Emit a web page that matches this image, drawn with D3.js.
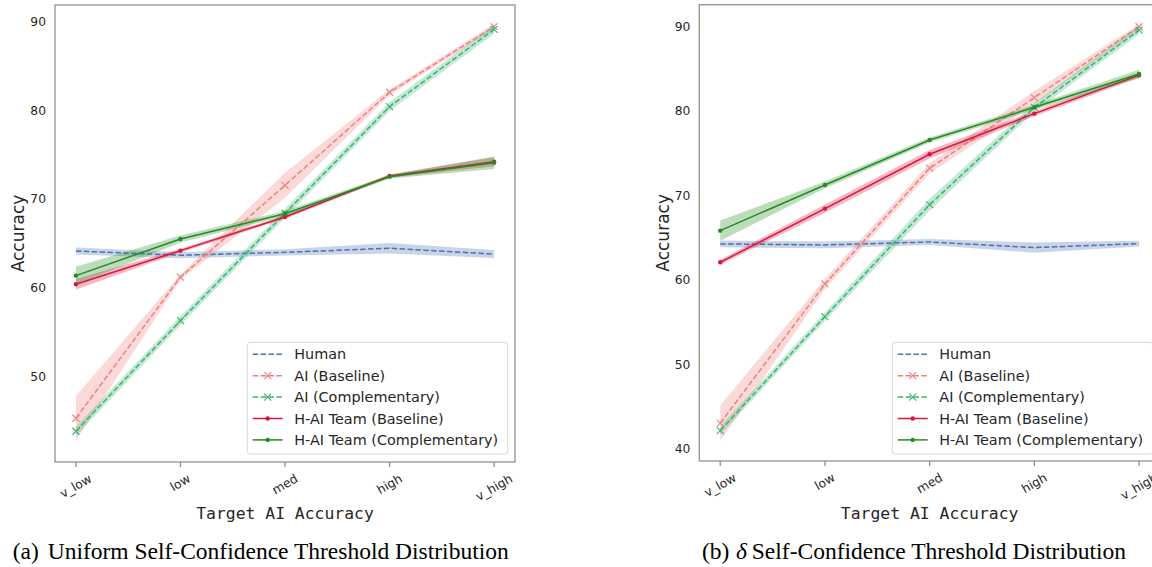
<!DOCTYPE html>
<html>
<head>
<meta charset="utf-8">
<script src="https://cdn.jsdelivr.net/npm/d3@7"></script>
<style>
  body { margin: 0; background: #fff; }
  svg { display: block; }
</style>
</head>
<body>
<svg id="chart" width="1152" height="567"></svg>
<script>
// categories on the x axis
const categories = ['v_low', 'low', 'med', 'high', 'v_high'];
const seriesNames = ['Human', 'AI (Baseline)', 'AI (Complementary)', 'H-AI Team (Baseline)', 'H-AI Team (Complementary)'];

// (a) uniform threshold: means and half-widths of the bands
const uniHuman = [64.15, 63.67, 64.0, 64.46, 63.8];
const uniHumanErr = [0.4, 0.35, 0.35, 0.6, 0.45];
const uniAIBase = [45.27, 61.19, 71.57, 82.07, 89.47];
const uniAIBaseErr = [2.5, 0.3, 1.4, 0.3, 0.3];
const uniAIComp = [43.8, 56.29, 68.41, 80.44, 89.17];
const uniAICompErr = [0.5, 0.5, 0.5, 0.5, 0.5];
const uniTeamBase = [60.39, 64.19, 67.99, 72.62, 74.23];
const uniTeamBaseErr = [0.6, 0.2, 0.2, 0.2, 0.5];
const uniTeamComp = [61.37, 65.51, 68.36, 72.54, 74.12];
const uniTeamCompErr = [1.0, 0.4, 0.3, 0.2, 0.7];

// (b) delta threshold
const delHuman = [64.24, 64.12, 64.47, 63.8, 64.27];
const delHumanErr = [0.4, 0.4, 0.35, 0.6, 0.35];
const delAIBase = [43.02, 59.5, 73.2, 81.55, 89.95];
const delAIBaseErr = [2.1, 0.6, 0.6, 0.8, 0.3];
const delAIComp = [42.14, 55.63, 68.89, 80.41, 89.56];
const delAICompErr = [0.5, 0.5, 0.7, 0.5, 0.5];
const delTeamBase = [62.07, 68.42, 74.85, 79.66, 84.2];
const delTeamBaseErr = [0.3, 0.5, 0.5, 0.3, 0.3];
const delTeamComp = [65.81, 71.22, 76.54, 80.41, 84.36];
const delTeamCompErr = [1.2, 0.4, 0.3, 0.3, 0.5];

const yTicks = [40, 50, 60, 70, 80, 90];

const styles = [
  { color: '#4c72b0', dash: '5.5,2.4', marker: 'none' },
  { color: '#f08080', dash: '5.5,2.4', marker: 'x' },
  { color: '#3cb371', dash: '5.5,2.4', marker: 'x' },
  { color: '#dc143c', dash: null, marker: 'dot' },
  { color: '#228b22', dash: null, marker: 'dot' }
];

const panels = [
  {
    box: { left: 55, right: 515, top: 5, bottom: 462 },
    yDomain: [40.33, 91.92],
    labelX: 18.3,
    series: [
      [uniHuman, uniHumanErr], [uniAIBase, uniAIBaseErr], [uniAIComp, uniAICompErr],
      [uniTeamBase, uniTeamBaseErr], [uniTeamComp, uniTeamCompErr]
    ]
  },
  {
    box: { left: 699.3, right: 1160, top: 4.7, bottom: 461 },
    yDomain: [38.54, 92.56],
    labelX: 663,
    series: [
      [delHuman, delHumanErr], [delAIBase, delAIBaseErr], [delAIComp, delAICompErr],
      [delTeamBase, delTeamBaseErr], [delTeamComp, delTeamCompErr]
    ]
  }
];

const svg = d3.select('#chart');
const textColor = '#262626';
const spineColor = '#8c8c8c';

panels.forEach((p, pi) => {
  const b = p.box;
  const x = d3.scalePoint().domain(categories).range([b.left, b.right]).padding(0.2);
  const y = d3.scaleLinear().domain(p.yDomain).range([b.bottom, b.top]);

  const g = svg.append('g');
  const clipId = 'clip' + pi;
  svg.append('clipPath').attr('id', clipId)
    .append('rect').attr('x', b.left).attr('y', b.top)
    .attr('width', b.right - b.left).attr('height', b.bottom - b.top);

  const plot = g.append('g').attr('clip-path', `url(#${clipId})`);

  p.series.forEach(([vals, errs], si) => {
    const st = styles[si];
    const rows = categories.map((c, i) => ({ c, v: vals[i], e: errs[i] }));

    plot.append('path')
      .datum(rows)
      .attr('fill', st.color)
      .attr('fill-opacity', 0.3)
      .attr('d', d3.area().x(d => x(d.c)).y0(d => y(d.v - d.e)).y1(d => y(d.v + d.e)));

    plot.append('path')
      .datum(rows)
      .attr('fill', 'none')
      .attr('stroke', st.color)
      .attr('stroke-width', 1.5)
      .attr('stroke-dasharray', st.dash)
      .attr('d', d3.line().x(d => x(d.c)).y(d => y(d.v)));

    if (st.marker === 'x') {
      plot.selectAll(null).data(rows).enter().append('path')
        .attr('transform', d => `translate(${x(d.c)},${y(d.v)})`)
        .attr('d', 'M-3.5,-3.5L3.5,3.5M-3.5,3.5L3.5,-3.5')
        .attr('stroke', st.color).attr('stroke-width', 1.1).attr('fill', 'none');
    } else if (st.marker === 'dot') {
      plot.selectAll(null).data(rows).enter().append('circle')
        .attr('cx', d => x(d.c)).attr('cy', d => y(d.v)).attr('r', 2.2)
        .attr('fill', st.color);
    }
  });

  // frame
  g.append('rect')
    .attr('x', b.left).attr('y', b.top)
    .attr('width', b.right - b.left).attr('height', b.bottom - b.top)
    .attr('fill', 'none').attr('stroke', spineColor).attr('stroke-width', 1.25);

  // y tick labels
  g.selectAll(null).data(yTicks.filter(t => t >= p.yDomain[0] && t <= p.yDomain[1]))
    .enter().append('text')
    .attr('x', b.left - 9).attr('y', d => y(d))
    .attr('dy', '0.35em')
    .attr('text-anchor', 'end')
    .attr('font-family', 'DejaVu Sans').attr('font-size', 12.3)
    .attr('fill', textColor)
    .text(d => d);

  // x ticks and rotated labels
  g.selectAll(null).data(categories).enter().append('line')
    .attr('x1', d => x(d)).attr('x2', d => x(d))
    .attr('y1', b.bottom).attr('y2', b.bottom + 5)
    .attr('stroke', spineColor).attr('stroke-width', 1.25);

  const fs = 12.3;
  const ang = 30 * Math.PI / 180;
  g.selectAll(null).data(categories).enter().append('text')
    .attr('font-family', 'DejaVu Sans').attr('font-size', fs)
    .attr('fill', textColor)
    .attr('text-anchor', 'middle')
    .attr('dominant-baseline', 'central')
    .text(d => d)
    .each(function(d) {
      const w = this.getComputedTextLength();
      const h = w * Math.sin(ang) + fs * 1.15 * Math.cos(ang);
      const cy = b.bottom + 9.5 + h / 2;
      d3.select(this).attr('transform', `translate(${x(d)},${cy}) rotate(-30)`);
    });

  // axis labels
  g.append('text')
    .attr('transform', `translate(${p.labelX},${(b.top + b.bottom) / 2}) rotate(-90)`)
    .attr('text-anchor', 'middle').attr('dominant-baseline', 'central')
    .attr('font-family', 'DejaVu Sans').attr('font-size', 17)
    .attr('fill', textColor)
    .text('Accuracy');

  g.append('text')
    .attr('x', (b.left + b.right) / 2).attr('y', 513.3)
    .attr('text-anchor', 'middle').attr('dominant-baseline', 'central')
    .attr('font-family', 'DejaVu Sans Mono').attr('font-size', 16.4)
    .attr('fill', textColor)
    .text('Target AI Accuracy');

  // legend
  const lx = b.right - 7.3 - 260.4, ly = 342.3;
  const leg = g.append('g');
  leg.append('rect')
    .attr('x', lx).attr('y', ly).attr('width', 260.4).attr('height', 111.7)
    .attr('rx', 3).attr('fill', '#fff').attr('fill-opacity', 0.8)
    .attr('stroke', '#d9d9d9').attr('stroke-width', 1);

  seriesNames.forEach((name, si) => {
    const st = styles[si];
    const ry = 354.3 + si * 21.4;
    leg.append('line')
      .attr('x1', lx + 5.4).attr('x2', lx + 35.4).attr('y1', ry).attr('y2', ry)
      .attr('stroke', st.color).attr('stroke-width', 1.5)
      .attr('stroke-dasharray', st.dash);
    const mx = lx + 20.4;
    if (st.marker === 'x') {
      leg.append('path')
        .attr('transform', `translate(${mx},${ry})`)
        .attr('d', 'M-3.5,-3.5L3.5,3.5M-3.5,3.5L3.5,-3.5')
        .attr('stroke', st.color).attr('stroke-width', 1.1);
    } else if (st.marker === 'dot') {
      leg.append('circle').attr('cx', mx).attr('cy', ry).attr('r', 2.2).attr('fill', st.color);
    }
    leg.append('text')
      .attr('x', lx + 47).attr('y', ry)
      .attr('dominant-baseline', 'central')
      .attr('font-family', 'DejaVu Sans').attr('font-size', 14.4)
      .attr('fill', textColor)
      .text(name);
  });
});

// sub-figure captions (serif, like the paper's LaTeX captions)
const capY = 558.5;
const capA = svg.append('text')
  .attr('y', capY)
  .attr('font-family', 'Liberation Serif').attr('font-size', 23.5)
  .attr('fill', '#000');
capA.append('tspan').attr('x', 12.7).text('(a)');
capA.append('tspan').attr('x', 47.7).text('Uniform Self-Confidence Threshold Distribution');

const capB = svg.append('text')
  .attr('y', capY)
  .attr('font-family', 'Liberation Serif').attr('font-size', 23.5)
  .attr('fill', '#000');
capB.append('tspan').attr('x', 702).text('(b)');
capB.append('tspan').attr('x', 736).attr('font-style', 'italic').text('δ');
capB.append('tspan').attr('x', 751.8).text('Self-Confidence Threshold Distribution');
</script>
</body>
</html>
